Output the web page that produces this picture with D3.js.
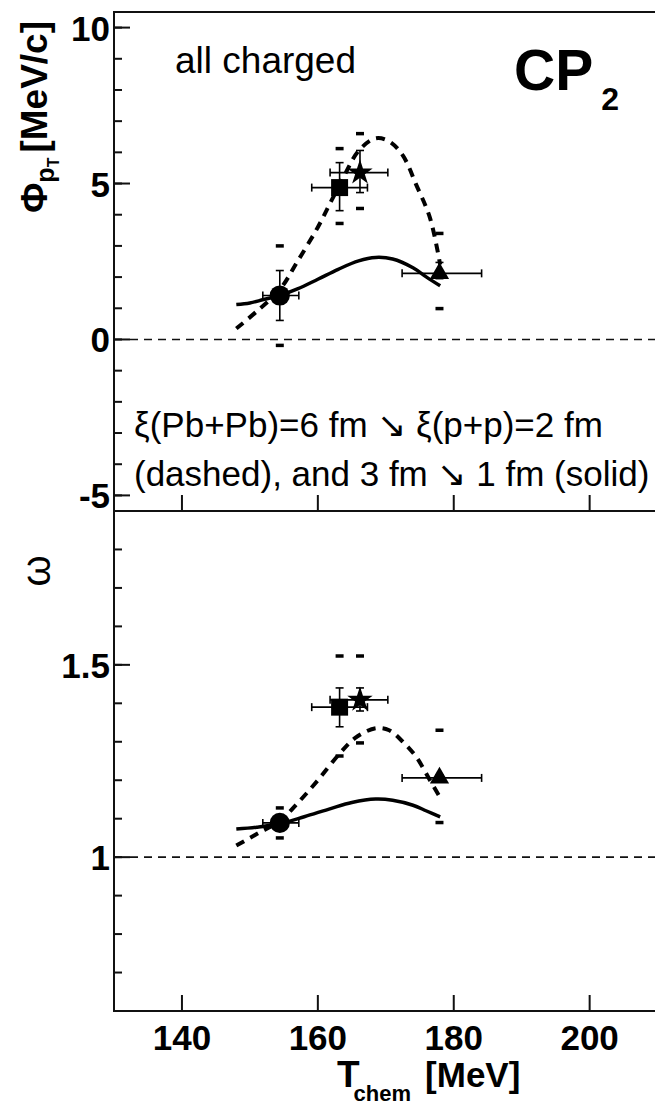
<!DOCTYPE html>
<html><head><meta charset="utf-8">
<script src="https://cdn.jsdelivr.net/npm/d3@7"></script>
<style>body{margin:0;background:#fff}svg{display:block}text{font-family:"Liberation Sans",Arial,sans-serif;fill:#000}</style>
</head><body><svg id="c" width="655" height="1107"></svg>
<script>
// ---- data ----
const markerShapes = ["circle", "square", "star", "triangle"];
const tChem = [154.4, 163.2, 166.2, 177.9];
const tErrLo = [151.9, 159.1, 161.8, 172.4];
const tErrHi = [157.2, 167.3, 170.3, 184.1];

const phiVal = [1.41, 4.87, 5.35, 2.12];
const phiErrLo = [0.61, 4.13, 4.71, 1.95];
const phiErrHi = [2.21, 5.67, 6.06, 2.47];
const phiSysLo = [-0.19, 3.72, 4.2, 0.99];
const phiSysHi = [3.0, 6.12, 6.6, 3.4];

const omegaVal = [1.089, 1.39, 1.409, 1.206];
const omegaErrLo = [1.08, 1.339, 1.38, 1.198];
const omegaErrHi = [1.10, 1.44, 1.44, 1.214];
const omegaSysLo = [1.05, 1.263, 1.297, 1.09];
const omegaSysHi = [1.128, 1.523, 1.523, 1.33];

const phiDashedT = [148, 151, 154.4, 157, 160, 162, 164, 166, 168.5, 170.5, 172.5, 174.5, 176.5, 178];
const phiDashedV = [0.35, 0.9, 1.6, 2.5, 3.6, 4.45, 5.3, 6.05, 6.45, 6.35, 5.9, 4.95, 3.9, 2.4];
const phiSolidT = [148, 150, 152, 154.4, 157, 160, 163, 166, 168.5, 171, 174, 176, 178];
const phiSolidV = [1.12, 1.17, 1.28, 1.41, 1.62, 1.93, 2.25, 2.52, 2.63, 2.58, 2.3, 2.0, 1.72];

const omDashedT = [148, 151, 154.4, 157, 160, 163, 165.5, 168.5, 170.5, 172.5, 174.5, 176.5, 178];
const omDashedV = [1.03, 1.06, 1.094, 1.14, 1.2, 1.265, 1.31, 1.335, 1.33, 1.3, 1.26, 1.2, 1.155];
const omSolidT = [148, 151, 154.4, 158, 162, 165, 168.5, 171, 174, 176, 178];
const omSolidV = [1.073, 1.078, 1.087, 1.105, 1.127, 1.142, 1.151, 1.148, 1.135, 1.12, 1.105];

const xTicks = [140, 160, 180, 200];
const phiMajor = [-5, 0, 5, 10];
const phiLabels = ["-5", "0", "5", "10"];
const phiMinor = d3.range(-5, 10.5, 1);
const omMajor = [1, 1.5];
const omLabels = ["1", "1.5"];
const omMinor = d3.range(7, 19, 1).map(v => v / 10);

// ---- scales ----
const svg = d3.select("#c");
const X0 = 114, X1 = 657.6;
const x = d3.scaleLinear().domain([130, 210]).range([X0, X1]);
const yU = d3.scaleLinear().domain([-5.5, 10.5]).range([511, 12]);
const yL = d3.scaleLinear().domain([0.6, 1.9]).range([1011, 511]);

// frame
svg.append("rect").attr("x", X0).attr("y", 12).attr("width", X1 - X0).attr("height", 999)
  .attr("fill", "none").attr("stroke", "#111").attr("stroke-width", 2);
svg.append("line").attr("x1", X0).attr("x2", X1).attr("y1", 511).attr("y2", 511)
  .attr("stroke", "#111").attr("stroke-width", 2);

function yAxis(y, major, labels, minor) {
  const g = svg.append("g");
  g.selectAll(".mi").data(minor).join("line")
    .attr("x1", X0).attr("x2", X0 + 8).attr("y1", d => y(d)).attr("y2", d => y(d))
    .attr("stroke", "#111").attr("stroke-width", 2);
  g.selectAll(".ma").data(major).join("line")
    .attr("x1", X0).attr("x2", X0 + 16).attr("y1", d => y(d)).attr("y2", d => y(d))
    .attr("stroke", "#111").attr("stroke-width", 2);
  g.selectAll("text").data(major).join("text")
    .attr("x", 110).attr("y", d => y(d) + 13).attr("text-anchor", "end")
    .attr("font-size", 35).attr("font-weight", "bold").text((d, i) => labels[i]);
}
yAxis(yU, phiMajor, phiLabels, phiMinor);
yAxis(yL, omMajor, omLabels, omMinor);

// x ticks (upward at divider and bottom)
[511, 1011].forEach(yy => {
  svg.append("g").selectAll("line").data(xTicks).join("line")
    .attr("x1", d => x(d)).attr("x2", d => x(d)).attr("y1", yy).attr("y2", yy - 16)
    .attr("stroke", "#111").attr("stroke-width", 2);
});
svg.append("g").selectAll("text").data(xTicks).join("text")
  .attr("x", d => x(d)).attr("y", 1050).attr("text-anchor", "middle")
  .attr("font-size", 35).attr("font-weight", "bold").text(d => d);

// reference dashed lines
svg.append("line").attr("x1", X0 + 16).attr("x2", X1).attr("y1", yU(0)).attr("y2", yU(0))
  .attr("stroke", "#111").attr("stroke-width", 1.6).attr("stroke-dasharray", "8,6");
svg.append("line").attr("x1", X0 + 16).attr("x2", X1).attr("y1", yL(1)).attr("y2", yL(1))
  .attr("stroke", "#111").attr("stroke-width", 1.6).attr("stroke-dasharray", "8,6");

// curves
function curve(y, ts, vs, dashed) {
  const line = d3.line().x(d => x(d[0])).y(d => y(d[1])).curve(d3.curveCatmullRom);
  svg.append("path").attr("d", line(ts.map((t, i) => [t, vs[i]])))
    .attr("fill", "none").attr("stroke", "#000").attr("stroke-width", dashed ? 4 : 3.5)
    .attr("stroke-dasharray", dashed ? "9,7" : null).attr("stroke-linecap", "butt");
}
curve(yU, phiDashedT, phiDashedV, true);
curve(yU, phiSolidT, phiSolidV, false);
curve(yL, omDashedT, omDashedV, true);
curve(yL, omSolidT, omSolidV, false);

// points
const symTypes = { circle: [d3.symbolCircle, 320], square: [d3.symbolSquare, 289], star: [d3.symbolStar, 200], triangle: [d3.symbolTriangle, 160] };
function points(y, val, eLo, eHi, sLo, sHi) {
  const g = svg.append("g").attr("stroke", "#000");
  tChem.forEach((t, i) => {
    const cx = x(t), cy = y(val[i]);
    g.append("line").attr("x1", x(tErrLo[i])).attr("x2", x(tErrHi[i])).attr("y1", cy).attr("y2", cy).attr("stroke-width", 1.6);
    [tErrLo[i], tErrHi[i]].forEach(v => g.append("line").attr("x1", x(v)).attr("x2", x(v)).attr("y1", cy - 4).attr("y2", cy + 4).attr("stroke-width", 1.6));
    g.append("line").attr("x1", cx).attr("x2", cx).attr("y1", y(eLo[i])).attr("y2", y(eHi[i])).attr("stroke-width", 1.6);
    [eLo[i], eHi[i]].forEach(v => g.append("line").attr("x1", cx - 4).attr("x2", cx + 4).attr("y1", y(v)).attr("y2", y(v)).attr("stroke-width", 1.6));
    [sLo[i], sHi[i]].forEach(v => g.append("line").attr("x1", cx - 4).attr("x2", cx + 4).attr("y1", y(v)).attr("y2", y(v)).attr("stroke-width", 3.5));
    const [type, size] = symTypes[markerShapes[i]];
    svg.append("path").attr("d", d3.symbol().type(type).size(size)())
      .attr("transform", `translate(${cx},${cy})`).attr("fill", "#000");
  });
}
points(yU, phiVal, phiErrLo, phiErrHi, phiSysLo, phiSysHi);
points(yL, omegaVal, omegaErrLo, omegaErrHi, omegaSysLo, omegaSysHi);

// texts
svg.append("text").attr("x", 175).attr("y", 73).attr("font-size", 37).text("all charged");
const cp = svg.append("text").attr("x", 514).attr("y", 90).attr("font-weight", "bold");
cp.append("tspan").attr("font-size", 57).text("CP");
cp.append("tspan").attr("font-size", 32).attr("dy", 20).attr("dx", 8).text("2");

const ann = svg.append("text").attr("font-size", 35);
ann.append("tspan").attr("x", 134).attr("y", 437).text("ξ(Pb+Pb)=6 fm ↘ ξ(p+p)=2 fm");
ann.append("tspan").attr("x", 134).attr("y", 486).text("(dashed), and 3 fm ↘ 1 fm (solid)");

// y titles
const yt = svg.append("text").attr("transform", "translate(47,213) rotate(-90)").attr("font-weight", "bold");
yt.append("tspan").attr("font-size", 37).text("Φ");
yt.append("tspan").attr("font-size", 25).attr("dy", 7).text("p");
yt.append("tspan").attr("font-size", 16).attr("dy", 5).text("T");
yt.append("tspan").attr("font-size", 37).attr("dy", -12).attr("dx", 5).text("[MeV/c]");

svg.append("text").attr("transform", "translate(50,571) rotate(-90)").attr("text-anchor", "middle")
  .attr("font-size", 40).text("ω");

// x title
const xt = svg.append("text").attr("x", 337).attr("y", 1087).attr("font-weight", "bold");
xt.append("tspan").attr("font-size", 37).text("T");
xt.append("tspan").attr("font-size", 22).attr("dy", 14).attr("dx", -6).text("chem");
xt.append("tspan").attr("font-size", 35).attr("dy", -14).attr("dx", 14).text("[MeV]");
</script></body></html>
